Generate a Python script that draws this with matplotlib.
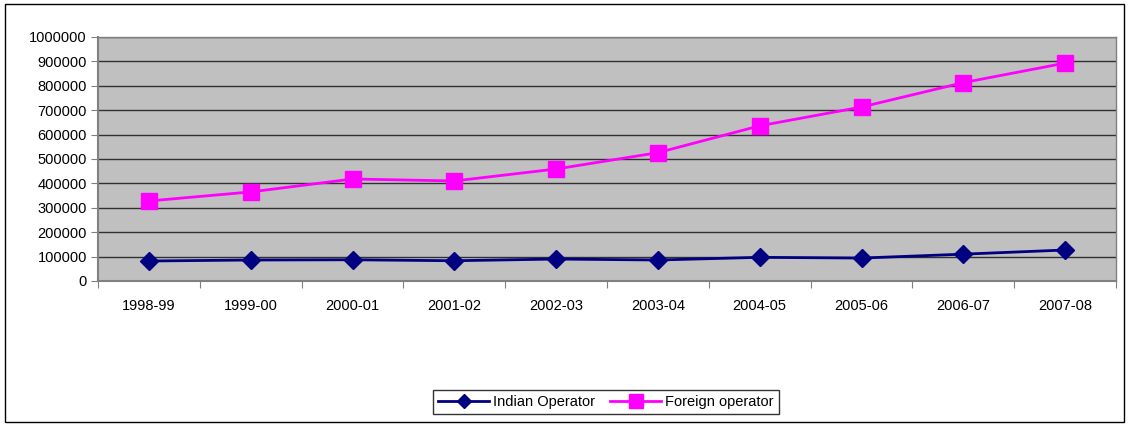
import matplotlib
matplotlib.use("Agg")
import matplotlib.pyplot as plt
from matplotlib.patches import Rectangle
import numpy as np

categories = ["1998-99", "1999-00", "2000-01", "2001-02", "2002-03",
              "2003-04", "2004-05", "2005-06", "2006-07", "2007-08"]
indian = [82000, 86000, 87000, 83000, 90000, 86000, 97000, 94000, 110000, 127000]
foreign = [328000, 365000, 418000, 410000, 459000, 526000, 636000, 713000, 813000, 893000]
yticks = list(range(0, 1000001, 100000))

plt.rcParams['font.family'] = ['Liberation Sans', 'DejaVu Sans']

W, H = 1128, 425
fig = plt.figure(figsize=(W / 100, H / 100), dpi=100)
ax = fig.add_axes([98 / W, 1 - 281 / H, (1116 - 98) / W, (281 - 37) / H])
ax.set_facecolor('#C0C0C0')

x = np.arange(len(categories))
ax.plot(x, indian, color='#000080', lw=2, marker='D', ms=9, label='Indian Operator', zorder=3)
ax.plot(x, foreign, color='#FF00FF', lw=2, marker='s', ms=12, label='Foreign operator', zorder=3)

ax.set_xlim(-0.5, len(categories) - 0.5)
ax.set_ylim(0, 1000000)
ax.set_yticks(yticks)
ax.set_yticklabels([str(v) for v in yticks], fontsize=10.5)
ax.yaxis.grid(True, color='#000000', lw=1, alpha=0.75)
ax.set_axisbelow(True)

ax.set_xticks(np.arange(-0.5, len(categories), 1.0))
ax.set_xticklabels([])
ax.set_xticks(x, minor=True)
ax.set_xticklabels(categories, minor=True, fontsize=10.5)
ax.tick_params(axis='x', which='minor', length=0, pad=13)
ax.tick_params(axis='x', which='major', length=5, color='#808080', direction='out')
ax.tick_params(axis='y', length=5, color='#808080', direction='out', pad=3)

for s in ['top', 'right']:
    ax.spines[s].set_color('#808080')
    ax.spines[s].set_linewidth(1)
for s in ['left', 'bottom']:
    ax.spines[s].set_color('#808080')
    ax.spines[s].set_linewidth(1.5)

leg = ax.legend(loc='center', bbox_to_anchor=((434 + 778) / 2 / W, 1 - 402 / H),
                bbox_transform=fig.transFigure, ncol=2, fontsize=10.5,
                frameon=True, fancybox=False, edgecolor='black', handlelength=3.5,
                handletextpad=0.3, columnspacing=1.0, borderpad=0.35, markerscale=0.8)
leg.get_frame().set_linewidth(1)

fig.patches.append(Rectangle((5 / W, 3 / H), (1124 - 5) / W, (421 - 3) / H,
                             transform=fig.transFigure, fill=False,
                             edgecolor='black', lw=1))

fig.savefig('out.png', dpi=100, facecolor='white')
